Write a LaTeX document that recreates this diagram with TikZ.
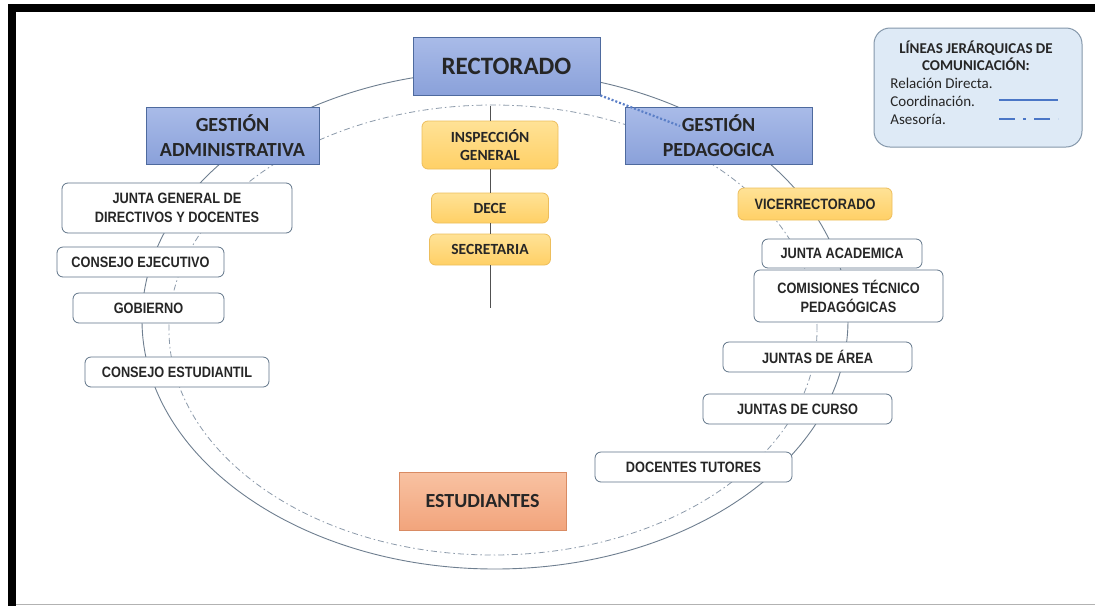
\documentclass[tikz,border=0pt]{standalone}
\usepackage{fontspec}
\setmainfont{Carlito}
\newfontfamily\narrowfont[FakeStretch = 0.85]{Liberation Sans}

\definecolor{txtdark}{HTML}{262626}
\definecolor{bluetop}{HTML}{A9BBE8}
\definecolor{bluebot}{HTML}{8AA1DA}
\definecolor{blueedge}{HTML}{4E6A9E}
\definecolor{yeltop}{HTML}{FFE296}
\definecolor{yelbot}{HTML}{FFD066}
\definecolor{yeledge}{HTML}{EDBE5C}
\definecolor{saltop}{HTML}{F8C2A2}
\definecolor{salbot}{HTML}{F2A47C}
\definecolor{saledge}{HTML}{D98B63}
\definecolor{wedge}{HTML}{607488}
\definecolor{legfill}{HTML}{DEEAF6}
\definecolor{legedge}{HTML}{8497AA}
\definecolor{solidline}{HTML}{6F7F90}
\definecolor{dashline}{HTML}{8C9AAA}
\definecolor{dotblue}{HTML}{5B7FC7}
\definecolor{legline}{HTML}{4A76C6}

\begin{document}
\begin{tikzpicture}
  [x = 1pt, y = -1pt, line width = .8pt, text = txtdark,
   bigbox/.style = {draw = blueedge, top color = bluetop, bottom color = bluebot,
     align = center, inner sep = 0pt, font = \bfseries\fontsize{20}{25}\selectfont},
   yelbox/.style = {draw = yeledge, top color = yeltop, bottom color = yelbot,
     rounded corners = 6pt, align = center, inner sep = 0pt,
     font = \bfseries\fontsize{15.5}{18}\selectfont},
   whitebox/.style = {draw = wedge, fill = white, rounded corners = 6pt,
     align = center, inner sep = 0pt, minimum height = 30,
     font = \narrowfont\bfseries\fontsize{15}{19}\selectfont},
   legtext/.style = {anchor = base west, inner sep = 0pt, font = \fontsize{15}{18}\selectfont},
   coordline/.style = {draw = solidline, line width = .9pt},
   asesline/.style = {draw = dashline, line width = .8pt,
     dash pattern = on 6pt off 3pt on 1.5pt off 3pt}]

  % marco
  \useasboundingbox (0,0) rectangle (1095,606);
  \fill[white] (0,0) rectangle (1095,606);
  \fill[black] (8,4) rectangle (1095,12);
  \fill[black] (8,4) rectangle (16,606);
  \draw[gray!60, line width = 1pt] (16,604.5) -- (1095,604.5);

  % coordinacion y asesoria
  \draw[coordline] (495,320) ellipse [x radius = 353pt, y radius = 249pt];
  \draw[asesline] (493,330) ellipse [x radius = 324pt, y radius = 225pt];

  % niveles
  \node[bigbox, minimum width = 187, minimum height = 58,
    font = \bfseries\fontsize{25}{30}\selectfont] (rect) at (506.5,66) {RECTORADO};
  \node[bigbox, minimum width = 173, minimum height = 57] (gadm) at (232.5,135.5)
    {GESTIÓN\\ADMINISTRATIVA};
  \node[bigbox, minimum width = 187, minimum height = 57] (gped) at (718.5,135.5)
    {GESTIÓN\\PEDAGOGICA};
  \node[draw = saledge, top color = saltop, bottom color = salbot,
    minimum width = 167, minimum height = 58,
    font = \bfseries\fontsize{20}{24}\selectfont] (estud) at (482.5,501) {ESTUDIANTES};

  % centro
  \node[yelbox, minimum width = 136, minimum height = 48] (insp) at (490,145)
    {INSPECCIÓN\\GENERAL};
  \node[yelbox, minimum width = 117, minimum height = 30] (dece) at (490,208) {DECE};
  \node[yelbox, minimum width = 121, minimum height = 31] (secr) at (490,249.5) {SECRETARIA};
  \coordinate (vtop) at (490,106);
  \coordinate (vbot) at (490,308);
  \draw[txtdark!80] (vtop) -- (insp) (insp) -- (dece) (dece) -- (secr) (secr) -- (vbot);

  % administrativa
  \node[whitebox, minimum width = 230, minimum height = 50] (jgen) at (177,208)
    {JUNTA GENERAL DE\\DIRECTIVOS Y DOCENTES};
  \node[whitebox, minimum width = 167] (cejec) at (140.5,262) {CONSEJO EJECUTIVO};
  \node[whitebox, minimum width = 151] (gob) at (148.5,308) {GOBIERNO};
  \node[whitebox, minimum width = 184] (cest) at (177,372) {CONSEJO ESTUDIANTIL};

  % pedagogica
  \node[yelbox, minimum width = 154, minimum height = 32,
    font = \narrowfont\bfseries\fontsize{15}{18}\selectfont] (vice) at (815,204) {VICERRECTORADO};
  \node[whitebox, minimum width = 160, minimum height = 29] (jacad) at (842,253.5) {JUNTA ACADEMICA};
  \node[whitebox, minimum width = 189, minimum height = 52] (comis) at (848.5,296)
    {COMISIONES TÉCNICO\\PEDAGÓGICAS};
  \node[whitebox, minimum width = 189] (jarea) at (817.5,357) {JUNTAS DE ÁREA};
  \node[whitebox, minimum width = 189] (jcurso) at (797.5,409) {JUNTAS DE CURSO};
  \node[whitebox, minimum width = 197] (tutor) at (693.5,467) {DOCENTES TUTORES};

  % relacion directa
  \coordinate (dotend) at (680,126);
  \draw[dotblue, line width = 2.2pt, dash pattern = on 2pt off 2pt] (rect.south east) -- (dotend);

  % leyenda
  \node[draw = legedge, fill = legfill, rounded corners = 16pt, line width = 1pt,
    minimum width = 208, minimum height = 119] (leyenda) at (978,87.5) {};
  \node[font = \bfseries\fontsize{15}{17}\selectfont, align = center, inner sep = 0pt]
    (legtit) at (976,56) {LÍNEAS JERÁRQUICAS DE\\COMUNICACIÓN:};
  \node[legtext] (lrel) at (890,88) {Relación Directa.};
  \node[legtext] (lcoo) at (890,106) {Coordinación.};
  \node[legtext] (lase) at (890,124) {Asesoría.};
  \coordinate (c1) at (999,100);
  \coordinate (c2) at (1058,100);
  \coordinate (a1) at (999,119);
  \coordinate (a2) at (1058,119);
  \draw[legline, line width = 2pt] (c1) -- (c2);
  \draw[legline, line width = 2pt, dash pattern = on 16pt off 8pt on 3pt off 8pt] (a1) -- (a2);
\end{tikzpicture}
\end{document}
